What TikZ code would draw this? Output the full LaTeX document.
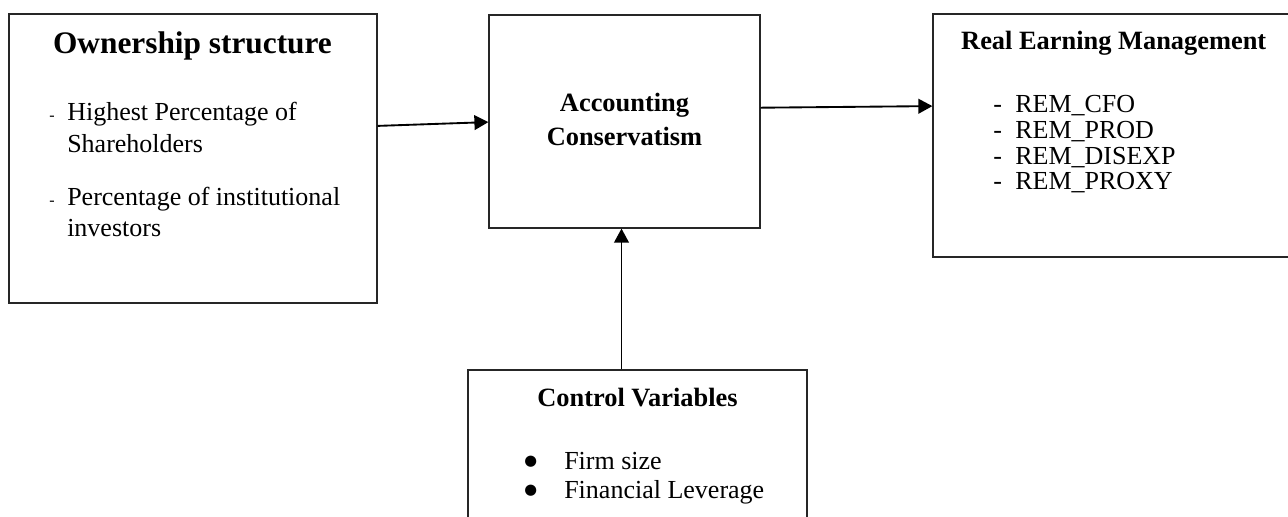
\documentclass[tikz,border=0pt]{standalone}
\usepackage{fontspec}
\setmainfont{Liberation Serif}
\newfontfamily\symfont{DejaVu Sans}
\usetikzlibrary{arrows.meta,calc}

\tikzset{
  box/.style={draw=black!85, line width=0.9pt, inner sep=0pt},
  conn/.style={line width=1.4pt, -{Triangle[length=10.5pt,width=11pt]}},
  body/.style={font=\fontsize{19.5}{23}\selectfont, inner sep=0pt, anchor=base west},
  head/.style={font=\fontsize{19.8}{23}\selectfont\bfseries, inner sep=0pt, anchor=base},
  smalldash/.style={font=\fontsize{12}{14}\selectfont, inner sep=0pt, anchor=base west},
  dot/.style={font=\symfont\fontsize{11}{11}\selectfont, inner sep=0pt, anchor=base west},
}

\begin{document}
\begin{tikzpicture}[x=0.75pt,y=0.75pt,yscale=-1,xscale=1]
        \useasboundingbox (0,0) rectangle (1288,517);
        \clip (0,0) rectangle (1288,517);
        % Boxes
        \node[box, minimum width=276pt, minimum height=216.75pt] (own) at (193,158.5) {};
        \node[box, minimum width=203.25pt, minimum height=159.75pt] (acc) at (624.5,121.5) {};
        \node[box, minimum width=275.25pt, minimum height=182.25pt] (rem) at (1116.5,135.5) {};
        \node[box, minimum width=254.25pt, minimum height=120pt] (ctrl) at (637.5,450) {};
        % Ownership structure
        \node[head, font=\fontsize{23.5}{28}\selectfont\bfseries] (ownT) at (192.5,54) {Ownership structure};
        \node[smalldash] (ownD1) at (49,120) {-};
        \node[body] (ownA1) at (67,120.5) {Highest Percentage of};
        \node[body] (ownA2) at (67,152.7) {Shareholders};
        \node[smalldash] (ownD2) at (49,205) {-};
        \node[body] (ownB1) at (67,205) {Percentage of institutional};
        \node[body] (ownB2) at (67,236.7) {investors};
        % Accounting Conservatism
        \node[head] (accT1) at (624.5,112) {Accounting};
        \node[head] (accT2) at (624.5,145) {Conservatism};
        % Real Earning Management
        \node[head] (remT) at (1113.7,50) {Real Earning Management};
        \node[body] (remD1) at (993,113) {-};
        \node[body] (remA) at (1015,113) {REM\_CFO};
        \node[body] (remD2) at (993,138.5) {-};
        \node[body] (remB) at (1015,138.5) {REM\_PROD};
        \node[body] (remD3) at (993,164) {-};
        \node[body] (remC) at (1015,164) {REM\_DISEXP};
        \node[body] (remD4) at (993,189.5) {-};
        \node[body] (remE) at (1015,189.5) {REM\_PROXY};
        % Control Variables
        \node[head] (ctrlT) at (637.5,406) {Control Variables};
        \node[dot] (ctrlD1) at (524,465) {●};
        \node[body] (ctrlA) at (564,469) {Firm size};
        \node[dot] (ctrlD2) at (524,494) {●};
        \node[body] (ctrlB) at (564,498) {Financial Leverage};
        % Connections
        \draw[conn] ($(own.north east)+(0,112.5)$) -- ($(acc.north west)+(0,107.7)$);
        \draw[conn] ($(acc.north east)+(0,93.3)$) -- ($(rem.north west)+(0,92.7)$);
        \draw[conn] ($(ctrl.north)+(-16,0)$) -- ($(acc.south)+(-3,0)$);
\end{tikzpicture}
\end{document}
